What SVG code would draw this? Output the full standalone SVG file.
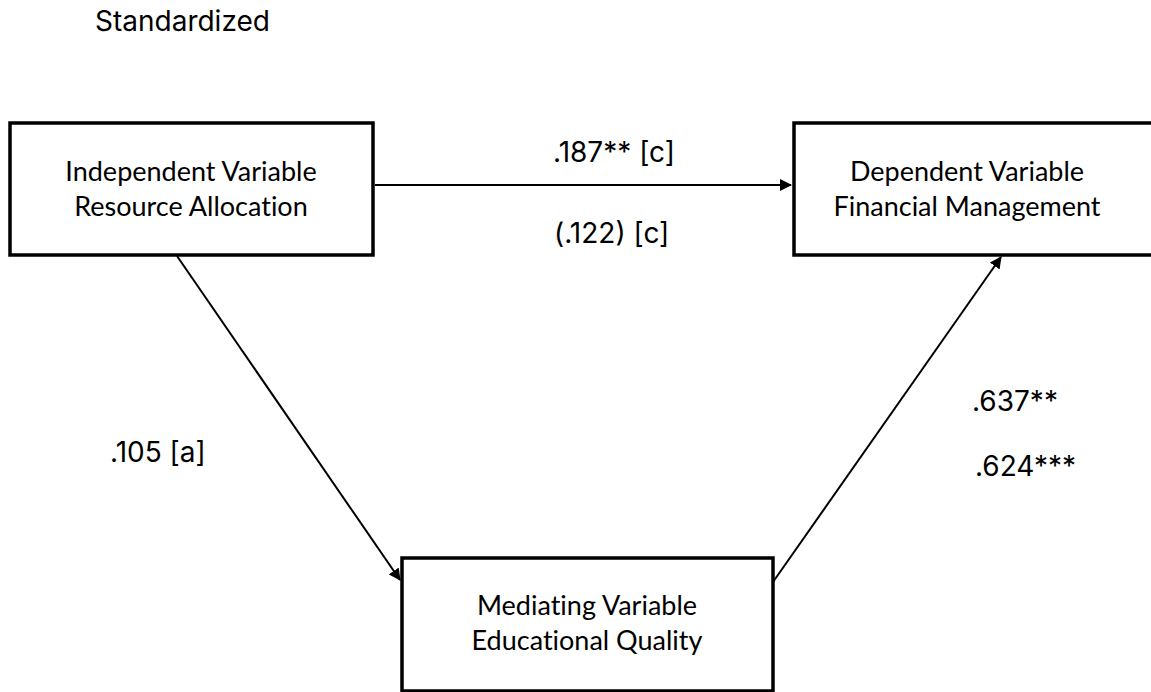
<svg xmlns="http://www.w3.org/2000/svg" width="1151" height="692" viewBox="0 0 1151 692">
<defs>
<style>
.box{fill:#fff;stroke:#000;stroke-width:3.5}
.nt{font-family:Lato,"Open Sans",sans-serif;font-size:27px;fill:#000;text-anchor:middle;font-variant-ligatures:none;font-feature-settings:"liga" 0,"clig" 0}
.lb{font-family:Inter,"Liberation Sans",sans-serif;font-size:28px;fill:#000}
.ln{stroke:#000;stroke-width:2;fill:none}
</style>
<marker id="ah" markerWidth="12" markerHeight="12" refX="11" refY="6" orient="auto" markerUnits="userSpaceOnUse" viewBox="0 0 12 12">
<path d="M0,0 L12,6 L0,12 Z" fill="#000"/>
</marker>
</defs>
<rect width="1151" height="692" fill="#fff"/>
<text class="lb" x="95" y="31">Standardized</text>
<g id="connectors">
<line class="ln" x1="375" y1="185" x2="791" y2="185" marker-end="url(#ah)"/>
<line class="ln" x1="177" y1="256" x2="400" y2="580" marker-end="url(#ah)"/>
<line class="ln" x1="773" y1="582" x2="1001" y2="257" marker-end="url(#ah)"/>
</g>
<g id="node-independent">
<rect class="box" x="10" y="123" width="363" height="132"/>
<text class="nt" x="191" y="181">Independent Variable</text>
<text class="nt" x="191" y="216">Resource Allocation</text>
</g>
<g id="node-dependent">
<rect class="box" x="794" y="123" width="380" height="132"/>
<text class="nt" x="967" y="181">Dependent Variable</text>
<text class="nt" x="967" y="216">Financial Management</text>
</g>
<g id="node-mediating">
<rect class="box" x="402" y="558" width="371" height="133"/>
<text class="nt" x="587" y="615">Mediating Variable</text>
<text class="nt" x="587" y="650">Educational Quality</text>
</g>
<g id="labels">
<text class="lb" x="553" y="162">.187** [c]</text>
<text class="lb" x="554" y="243">(.122) [c]</text>
<text class="lb" x="110" y="462">.105 [a]</text>
<text class="lb" x="972" y="411">.637**</text>
<text class="lb" x="975" y="476">.624***</text>
</g>
</svg>
